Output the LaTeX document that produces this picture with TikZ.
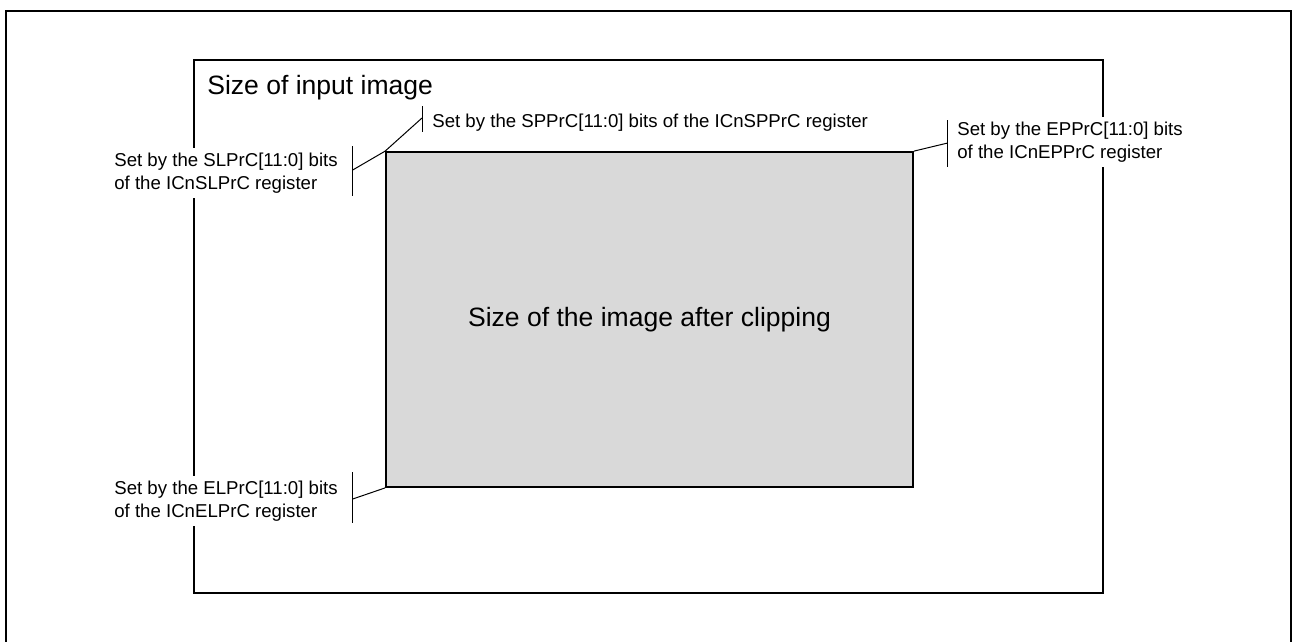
\documentclass[tikz,border=0pt]{standalone}
\usepackage{fontspec}
\setmainfont{Liberation Sans}
\usepackage{xcolor}
\definecolor{clipgray}{RGB}{217,217,217}
\usetikzlibrary{positioning}

\begin{document}
\begin{tikzpicture}[
    x=0.2mm, y=-0.2mm,
    frame/.style={draw, line width=0.4mm},
    inbox/.style={draw, line width=0.25mm},
    clipbox/.style={rectangle, draw, line width=0.35mm, fill=clipgray,
                    minimum width=105.4mm, minimum height=67mm,
                    font=\fontsize{15.1}{18}\selectfont},
    title/.style={inner sep=0pt, font=\fontsize{15.1}{18}\selectfont},
    note/.style={align=left, fill=white, inner xsep=0pt, inner ysep=1mm,
                 font=\fontsize{10.6}{13.4}\selectfont},
    lead/.style={line width=0.2mm},
]
\useasboundingbox (0,0) rectangle (1301,641);

% Outer frame (open at the bottom)
\draw[frame] (6,660) -- (6,11) -- (1291,11) -- (1291,660);

% Input image
\draw[inbox] (194,60) rectangle (1103,593);
\node[title, anchor=base west] (insize) at (207,94) {Size of input image};

% Clipped image
\node[clipbox] (clip) at (649.5,319.5) {Size of the image after clipping};

% Register notes
\node[note, anchor=west] (slprc) at (114,173) {Set by the SLPrC[11:0] bits\\of the ICnSLPrC register};
\node[note, anchor=west] (spprc) at (432,123) {Set by the SPPrC[11:0] bits of the ICnSPPrC register};
\node[note, anchor=west] (epprc) at (957,142) {Set by the EPPrC[11:0] bits\\of the ICnEPPrC register};
\node[note, anchor=west] (elprc) at (114,501) {Set by the ELPrC[11:0] bits\\of the ICnELPrC register};

\coordinate (slbar) at (352.7,170);
\coordinate (spbar) at (422,118);
\coordinate (epbar) at (947.7,143);
\coordinate (elbar) at (352.7,499);

% Bars
\draw[lead] (slbar) +(0,-24) -- +(0,26);
\draw[lead] (spbar) +(0,-12) -- +(0,14);
\draw[lead] (epbar) +(0,-23) -- +(0,24);
\draw[lead] (elbar) +(0,-27) -- +(0,24);

% Leaders to the corners
\draw[lead] (slbar) -- (clip.north west);
\draw[lead] (spbar) -- (clip.north west);
\draw[lead] (epbar) -- (clip.north east);
\draw[lead] (elbar) -- (clip.south west);

\end{tikzpicture}
\end{document}
